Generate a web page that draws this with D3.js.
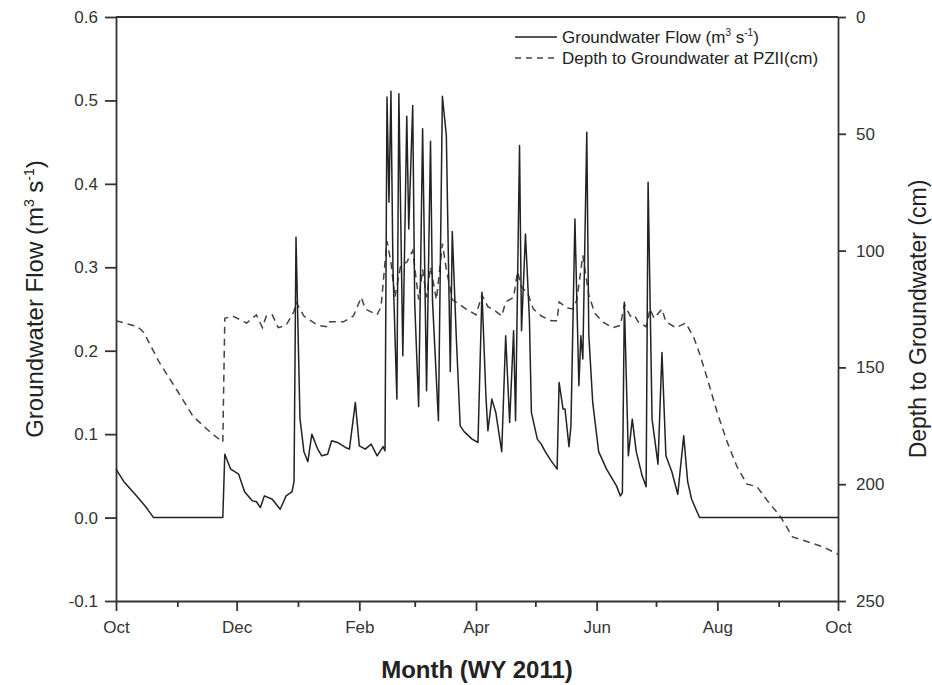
<!DOCTYPE html>
<html>
<head>
<meta charset="utf-8">
<script src="https://cdn.jsdelivr.net/npm/d3@7"></script>
<style>
  body { margin: 0; background: #fff; }
  text { font-family: "Liberation Sans", Arial, sans-serif; fill: #222; }
  .axis path, .axis line { stroke: #333; stroke-width: 1.8; }
  .axis text { font-size: 17px; fill: #333; }
</style>
</head>
<body>
<div id="chart"></div>
<script>
// Days since 1 Oct 2010 and groundwater flow (m3/s)
var flowDays = [0, 4, 10, 15, 19, 54, 55, 58, 62, 65, 69, 71, 73, 75, 79, 83, 86, 89, 90, 91,
    93, 95, 97, 99, 102, 104, 107, 109, 112, 116, 118, 121, 123, 126, 129, 132, 135, 136, 137, 138,
    139, 140, 142, 143, 145, 147, 148, 150, 151, 153, 155, 157, 159, 160, 163, 165, 167, 169, 170, 172,
    174, 176, 180, 183, 185, 187, 188, 190, 192, 195, 197, 199, 201, 202, 204, 205, 207, 209, 210, 213,
    215, 217, 220, 223, 224, 226, 227, 229, 230, 232, 234, 235, 236, 238, 239, 241, 244, 248, 253, 255,
    256, 257, 259, 261, 263, 266, 268, 269, 271, 274, 276, 278, 281, 284, 287, 289, 291, 295, 365];
var flowValues = [0.058, 0.043, 0.027, 0.013, 0.000, 0.000, 0.076, 0.058, 0.052, 0.031, 0.020, 0.019, 0.012, 0.026, 0.022, 0.010, 0.026, 0.031, 0.043, 0.336,
    0.119, 0.079, 0.067, 0.100, 0.082, 0.074, 0.076, 0.092, 0.090, 0.084, 0.082, 0.138, 0.086, 0.082, 0.088, 0.074, 0.085, 0.080, 0.504, 0.378,
    0.511, 0.300, 0.142, 0.508, 0.194, 0.481, 0.346, 0.494, 0.258, 0.133, 0.466, 0.152, 0.451, 0.260, 0.116, 0.505, 0.458, 0.175, 0.343, 0.218,
    0.110, 0.103, 0.094, 0.090, 0.270, 0.146, 0.104, 0.142, 0.126, 0.079, 0.218, 0.114, 0.224, 0.116, 0.446, 0.224, 0.340, 0.238, 0.126, 0.094,
    0.088, 0.079, 0.068, 0.058, 0.162, 0.130, 0.130, 0.085, 0.110, 0.358, 0.158, 0.218, 0.190, 0.462, 0.220, 0.138, 0.079, 0.058, 0.038, 0.026,
    0.030, 0.258, 0.074, 0.118, 0.079, 0.050, 0.037, 0.402, 0.118, 0.064, 0.198, 0.074, 0.055, 0.028, 0.098, 0.043, 0.022, 0.000, 0.000];

// Days since 1 Oct 2010 and depth to groundwater at PZII (cm)
var depthDays = [0, 11, 14, 22, 31, 39, 48, 54, 55, 59, 66, 71, 74, 76, 79, 82, 86, 90, 91, 95,
    102, 107, 108, 115, 120, 124, 126, 132, 134, 136, 137, 139, 141, 144, 147, 150, 153, 155, 157, 159,
    162, 165, 167, 170, 177, 182, 185, 188, 192, 195, 197, 201, 203, 205, 208, 211, 215, 220, 223, 224,
    228, 231, 233, 236, 239, 242, 246, 251, 255, 257, 260, 262, 264, 268, 270, 272, 276, 278, 283, 288,
    292, 295, 299, 304, 309, 314, 319, 324, 329, 336, 342, 351, 358, 365];
var depthValues = [130, 132.6, 135, 148, 160, 171, 178, 182, 129, 128, 131, 127.5, 133, 128, 127.5, 133, 132, 126, 122, 128,
    132, 132.6, 130.5, 130.5, 128, 120, 125, 127.5, 124, 105, 96, 105, 120, 106, 105, 100, 121, 108, 120, 107,
    121, 97, 108, 121, 125, 127.5, 119, 124, 126, 128, 122, 120, 109, 115.6, 118, 125, 128, 130, 130, 122,
    124.5, 125, 121, 102, 119, 126.7, 130.5, 133, 132, 123, 128, 127.5, 130.5, 132.6, 125, 129, 125, 130.5, 133, 131,
    137, 144, 155, 169.5, 182, 192.6, 200, 201, 206.7, 214, 222.6, 225, 227, 230];

// Axis ticks
var monthTicks = [0, 1, 2, 3, 4, 5, 6, 7, 8, 9, 10, 11, 12];   // months after Oct 2010
var monthLabels = ["Oct", "", "Dec", "", "Feb", "", "Apr", "", "Jun", "", "Aug", "", "Oct"];
var flowTicks = [-0.1, 0.0, 0.1, 0.2, 0.3, 0.4, 0.5, 0.6];
var depthTicks = [0, 50, 100, 150, 200, 250];

window.onload = function() {
    var margin = { top: 17, right: 94, bottom: 84, left: 116 };
    var width = 932 - margin.left - margin.right;
    var height = 685 - margin.top - margin.bottom;

    var svg = d3.select("#chart")
                .append("svg")
                .attr("width", 932)
                .attr("height", 685)
                .append("g")
                .attr("transform", "translate(" + margin.left + "," + margin.top + ")");

    var start = new Date(2010, 9, 1);
    var toDate = function(d) { return d3.timeDay.offset(start, d); };

    var flow = flowDays.map(function(d, i) { return { date: toDate(d), value: flowValues[i] }; });
    var depth = depthDays.map(function(d, i) { return { date: toDate(d), value: depthValues[i] }; });

    var x = d3.scaleTime()
              .domain([start, new Date(2011, 9, 1)])
              .range([0, width]);

    var y = d3.scaleLinear().domain([-0.1, 0.6]).range([height, 0]);
    var y2 = d3.scaleLinear().domain([0, 250]).range([0, height]);

    var monthDates = monthTicks.map(function(m) { return d3.timeMonth.offset(start, m); });
    var majorDates = monthDates.filter(function(d, i) { return monthLabels[i] !== ""; });
    var minorDates = monthDates.filter(function(d, i) { return monthLabels[i] === ""; });

    // Top border
    svg.append("line")
       .attr("x1", 0).attr("x2", width)
       .attr("y1", 0).attr("y2", 0)
       .attr("stroke", "#333").attr("stroke-width", 1.8);

    // Minor month ticks on the x axis
    svg.append("g")
       .attr("class", "axis")
       .attr("transform", "translate(0," + height + ")")
       .call(d3.axisBottom(x).tickValues(minorDates).tickSize(6).tickFormat(""))
       .select(".domain").remove();

    svg.append("g")
       .attr("class", "axis")
       .attr("transform", "translate(0," + height + ")")
       .call(d3.axisBottom(x)
               .tickValues(majorDates)
               .tickSize(10)
               .tickPadding(10)
               .tickSizeOuter(0)
               .tickFormat(function(d) { return monthLabels[monthDates.map(Number).indexOf(+d)]; }));

    svg.append("g")
       .attr("class", "axis")
       .call(d3.axisLeft(y)
               .tickValues(flowTicks)
               .tickSize(11)
               .tickPadding(7)
               .tickSizeOuter(0)
               .tickFormat(function(d) { return d.toFixed(1); }));

    svg.append("g")
       .attr("class", "axis")
       .attr("transform", "translate(" + width + ",0)")
       .call(d3.axisRight(y2)
               .tickValues(depthTicks)
               .tickSize(8)
               .tickPadding(10)
               .tickSizeOuter(0));

    // Lines
    var flowLine = d3.line()
                     .x(function(d) { return x(d.date); })
                     .y(function(d) { return y(d.value); });
    var depthLine = d3.line()
                      .x(function(d) { return x(d.date); })
                      .y(function(d) { return y2(d.value); });

    svg.append("path")
       .datum(depth)
       .attr("fill", "none")
       .attr("stroke", "#444")
       .attr("stroke-width", 1.5)
       .attr("stroke-dasharray", "7,5")
       .attr("d", depthLine);

    svg.append("path")
       .datum(flow)
       .attr("fill", "none")
       .attr("stroke", "#222")
       .attr("stroke-width", 1.5)
       .attr("stroke-linejoin", "round")
       .attr("d", flowLine);

    // Legend
    var legend = svg.append("g").attr("transform", "translate(" + (515 - margin.left) + "," + (37 - margin.top) + ")");
    legend.append("line").attr("x1", 0).attr("x2", 42).attr("y1", 0).attr("y2", 0)
          .attr("stroke", "#222").attr("stroke-width", 1.5);
    legend.append("line").attr("x1", 0).attr("x2", 42).attr("y1", 21).attr("y2", 21)
          .attr("stroke", "#444").attr("stroke-width", 1.5).attr("stroke-dasharray", "6,5");
    var t1 = legend.append("text").attr("x", 47).attr("y", 6).style("font-size", "17px");
    t1.append("tspan").text("Groundwater Flow (m");
    t1.append("tspan").attr("dy", -7).style("font-size", "10px").text("3");
    t1.append("tspan").attr("dy", 7).text(" s");
    t1.append("tspan").attr("dy", -7).style("font-size", "10px").text("-1");
    t1.append("tspan").attr("dy", 7).text(")");
    legend.append("text").attr("x", 47).attr("y", 27).style("font-size", "17px")
          .text("Depth to Groundwater at PZII(cm)");

    // Axis titles
    var yt = svg.append("text")
                .attr("transform", "translate(" + (43 - margin.left) + "," + (height / 2 - 10) + ") rotate(-90)")
                .attr("text-anchor", "middle")
                .style("font-size", "24px");
    yt.append("tspan").text("Groundwater Flow (m");
    yt.append("tspan").attr("dy", -9).style("font-size", "14px").text("3");
    yt.append("tspan").attr("dy", 9).text(" s");
    yt.append("tspan").attr("dy", -9).style("font-size", "14px").text("-1");
    yt.append("tspan").attr("dy", 9).text(")");

    svg.append("text")
       .attr("transform", "translate(" + (width + 88) + "," + (height / 2 + 10) + ") rotate(-90)")
       .attr("text-anchor", "middle")
       .style("font-size", "23px")
       .text("Depth to Groundwater (cm)");

    svg.append("text")
       .attr("x", 477 - margin.left)
       .attr("y", 678 - margin.top)
       .attr("text-anchor", "middle")
       .style("font-size", "24px")
       .style("font-weight", "bold")
       .text("Month (WY 2011)");
};
</script>
</body>
</html>
